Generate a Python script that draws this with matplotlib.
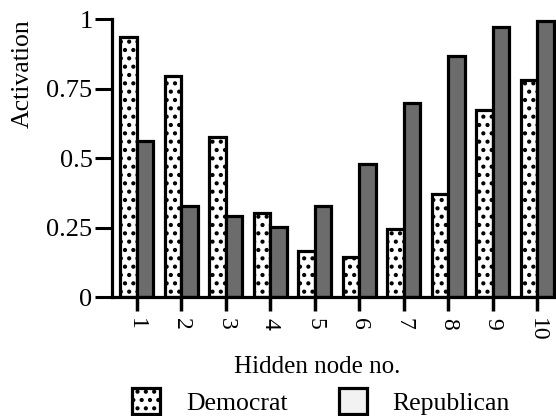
import matplotlib
matplotlib.use('Agg')
import matplotlib.pyplot as plt
import matplotlib.patches as mpatches
import numpy as np

plt.rc('font', family='Liberation Serif', size=18)
plt.rc('hatch', linewidth=1.8)

# data
nodes = ['1', '2', '3', '4', '5', '6', '7', '8', '9', '10']
democrat = [0.935, 0.797, 0.575, 0.303, 0.167, 0.145, 0.245, 0.371, 0.675, 0.783]
republican = [0.561, 0.329, 0.292, 0.253, 0.329, 0.478, 0.700, 0.866, 0.973, 0.995]
yticks = [0, 0.25, 0.5, 0.75, 1]
yticklabels = ['0', '0.25', '0.5', '0.75', '1']

fig = plt.figure(figsize=(5.56, 4.16), dpi=100)
ax = fig.add_axes([0.2014, 0.2849, 0.7986, 0.669])

x = np.arange(1, len(nodes) + 1)
w = 0.37
ax.bar(x - w / 2, democrat, width=w, facecolor='white', edgecolor='black',
       linewidth=2.3, hatch='..')
ax.bar(x + w / 2, republican, width=w, facecolor='#6c6c6c', edgecolor='black',
       linewidth=2.3)

ax.set_xlim(0.44, 10.42)
ax.set_ylim(0, 1)
ax.set_xticks(x)
ax.set_xticklabels(nodes, rotation=270, va='top', ha='center', fontsize=17)
ax.set_yticks(yticks)
ax.set_yticklabels(yticklabels, fontsize=19)
ax.tick_params(axis='x', direction='out', length=10, width=2.5, pad=5)
ax.tick_params(axis='y', direction='out', length=12, width=2.2, pad=2)

for side in ['top', 'right']:
    ax.spines[side].set_visible(False)
ax.spines['left'].set_linewidth(2.3)
ax.spines['bottom'].set_linewidth(2.3)

fig.text(23 / 556, 1 - 74 / 416, 'Activation', rotation=90, ha='center',
         va='center', fontsize=18.5)
fig.text(317 / 556, 1 - 367 / 416, 'Hidden node no.', ha='center',
         va='center', fontsize=18)

dem_patch = mpatches.Patch(facecolor='white', edgecolor='black', linewidth=2.3,
                           hatch='..', label='Democrat')
rep_patch = mpatches.Patch(facecolor='#f2f2f2', edgecolor='black', linewidth=2.3,
                           label='Republican')
fig.legend(handles=[dem_patch, rep_patch], loc='lower left',
           bbox_to_anchor=(131 / 556, 0.0), ncol=2, frameon=False,
           borderpad=0.05, borderaxespad=0,
           handlelength=1.09, handleheight=1.15, handletextpad=1.0,
           columnspacing=2.0, fontsize=18.5)

fig.savefig('out.png', dpi=100)
